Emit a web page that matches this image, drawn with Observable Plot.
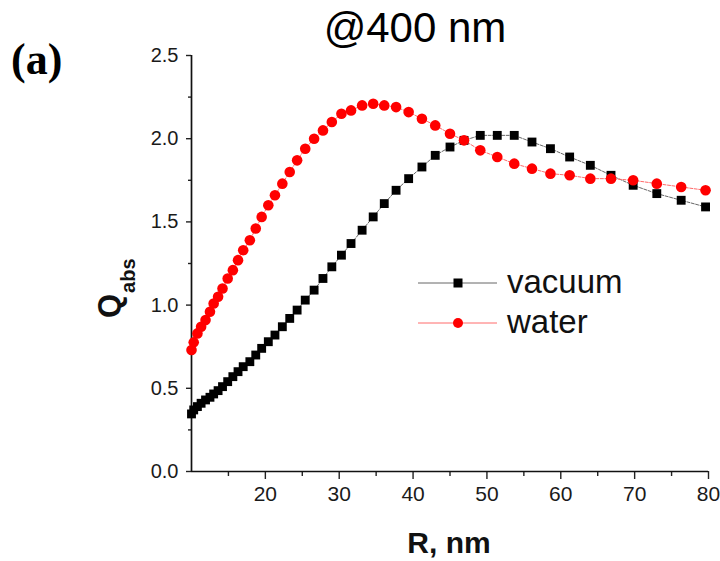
<!DOCTYPE html>
<html><head><meta charset="utf-8">
<script src="https://cdn.jsdelivr.net/npm/d3@7"></script>
<script src="https://cdn.jsdelivr.net/npm/@observablehq/plot@0.6"></script>
<style>
body{margin:0;background:#fff;}
#wrap{position:relative;width:720px;height:561px;font-family:"Liberation Sans",Arial,sans-serif;}
</style></head><body><div id="wrap"></div>
<script>
const R = [10.0,10.3,10.8,11.3,11.9,12.5,13.0,13.6,14.2,14.9,15.6,16.3,17.0,17.9,18.7,19.5,20.4,21.3,22.3,23.3,24.3,25.4,26.6,27.8,29.0,30.3,31.6,33.1,34.6,36.1,37.7,39.4,41.2,43.0,45.0,46.9,49.1,51.4,53.7,56.1,58.6,61.2,64.0,66.8,69.8,73.0,76.3,79.6];
const vacuum = [0.346,0.37,0.39,0.41,0.43,0.446,0.466,0.486,0.51,0.54,0.57,0.60,0.63,0.66,0.70,0.74,0.78,0.82,0.87,0.92,0.97,1.03,1.09,1.16,1.23,1.30,1.37,1.45,1.53,1.61,1.69,1.76,1.83,1.90,1.95,1.99,2.02,2.02,2.02,1.98,1.94,1.89,1.84,1.78,1.72,1.67,1.63,1.59];
const water = [0.73,0.776,0.83,0.87,0.91,0.96,1.01,1.05,1.10,1.16,1.21,1.27,1.33,1.39,1.46,1.53,1.60,1.66,1.73,1.80,1.87,1.94,2.00,2.05,2.10,2.15,2.17,2.20,2.21,2.20,2.19,2.16,2.12,2.08,2.03,1.99,1.93,1.89,1.85,1.82,1.79,1.78,1.76,1.76,1.75,1.73,1.71,1.69];
const seriesNames = ["vacuum","water"];
const xTicks = [20,30,40,50,60,70,80];
const xMinor = [15,25,35,45,55,65,75];
const yTicks = [0,0.5,1.0,1.5,2.0,2.5];
const yMinor = [0.25,0.75,1.25,1.75,2.25];
const titleText = "@400 nm";
const panelText = "(a)";
const xLabelText = "R, nm";
const yLabelMain = "Q";
const yLabelSub = "abs";

const rows = R.flatMap((r,i)=>[{R:r,Q:vacuum[i],s:seriesNames[0]},{R:r,Q:water[i],s:seriesNames[1]}]);
const vac = rows.filter(d=>d.s==="vacuum");
const wat = rows.filter(d=>d.s==="water");

const font = "'Liberation Sans', Arial, sans-serif";
const plot = Plot.plot({
  width:720, height:561,
  marginLeft:191, marginRight:12, marginTop:55, marginBottom:90,
  style:{fontFamily:font, fontSize:"20px", color:"#1a1a1a", background:"#fff", overflow:"visible"},
  x:{domain:[10,80], label:null},
  y:{domain:[0,2.5], label:null},
  marks:[
    Plot.axisX({ticks:xMinor, tickSize:5, text:null, stroke:"#222", strokeWidth:1.4}),
    Plot.axisX({ticks:xTicks, tickSize:8, tickPadding:7, stroke:"#222", strokeWidth:1.4, fontSize:21, fill:"#1a1a1a"}),
    Plot.axisY({ticks:yMinor, tickSize:3, text:null, stroke:"#222", strokeWidth:1.4}),
    Plot.axisY({ticks:yTicks, tickSize:5, tickPadding:8, tickFormat:d3.format(".1f"), stroke:"#222", strokeWidth:1.4, fontSize:20, fill:"#1a1a1a"}),
    Plot.ruleY([0], {stroke:"#111", strokeWidth:1.7}),
    Plot.ruleX([10], {stroke:"#111", strokeWidth:1.7}),
    Plot.line(vac, {x:"R", y:"Q", stroke:"#666", strokeWidth:1, strokeDasharray:"3,1.5"}),
    Plot.line(wat, {x:"R", y:"Q", stroke:"#ff6a6a", strokeWidth:1, strokeDasharray:"3,1.5"}),
    Plot.dot(vac, {x:"R", y:"Q", symbol:"square", r:5, fill:"#000", stroke:"none"}),
    Plot.dot(wat, {x:"R", y:"Q", symbol:"circle", r:5.3, fill:"#ff0000", stroke:"none"})
  ]
});
const wrap = document.getElementById("wrap");
wrap.appendChild(plot);

const svg = d3.select(plot);
// y axis label with subscript
const yl = svg.append("text")
  .attr("transform","translate(120,318) rotate(-90)")
  .attr("text-anchor","start")
  .attr("font-family",font).attr("font-weight","bold").attr("fill","#111");
yl.append("tspan").attr("font-size",31).text(yLabelMain);
yl.append("tspan").attr("font-size",20).attr("dy",15).attr("dx",1).text(yLabelSub);

// x axis label
svg.append("text").attr("x",449).attr("y",553).attr("text-anchor","middle")
  .attr("font-family",font).attr("font-weight","bold").attr("font-size",30).attr("fill","#111")
  .text(xLabelText);

// title and panel
svg.append("text").attr("x",415).attr("y",42).attr("text-anchor","middle")
  .attr("font-family",font).attr("font-size",42).attr("fill","#000").text(titleText);
svg.append("text").attr("x",11).attr("y",74).attr("text-anchor","start")
  .attr("font-family","'Liberation Serif','Times New Roman',serif").attr("font-weight","bold").attr("font-size",44).attr("fill","#000").text(panelText);

// legend
const leg = svg.append("g");
const legItems = [
  {name:seriesNames[0], y:283, base:293, line:"#666", sym:"square", col:"#000"},
  {name:seriesNames[1], y:323, base:333, line:"#ff6a6a", sym:"circle", col:"#ff0000"}
];
legItems.forEach(it=>{
  leg.append("line").attr("x1",418).attr("x2",497).attr("y1",it.y).attr("y2",it.y)
    .attr("stroke",it.line).attr("stroke-width",1);
  if(it.sym==="square"){
    leg.append("rect").attr("x",453.5).attr("y",it.y-4.5).attr("width",9).attr("height",9).attr("fill",it.col);
  } else {
    leg.append("circle").attr("cx",458).attr("cy",it.y).attr("r",5).attr("fill",it.col);
  }
  leg.append("text").attr("x",507).attr("y",it.base).attr("text-anchor","start")
    .attr("font-family",font).attr("font-size",33).attr("fill","#111").text(it.name);
});
</script></body></html>
